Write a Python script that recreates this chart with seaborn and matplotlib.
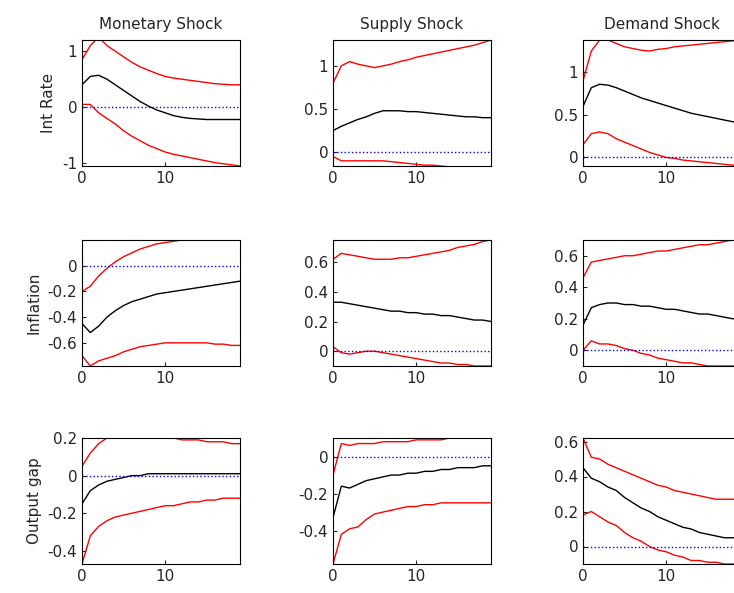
import numpy as np
import pandas as pd
import matplotlib
matplotlib.use("Agg")
import matplotlib.pyplot as plt
import seaborn as sns

# impulse responses, horizon 0..19
horizon = list(range(20))
shocks = ['Monetary Shock', 'Supply Shock', 'Demand Shock']
variables = ['Int Rate', 'Inflation', 'Output gap']

# (variable, shock) -> (lower, mid, upper)
irf = {
 ('Int Rate', 'Monetary Shock'): (
  [0.05, 0.05, -0.1, -0.2, -0.3, -0.42, -0.52, -0.6, -0.68, -0.74, -0.8, -0.84, -0.87, -0.9, -0.93, -0.96, -0.99, -1.01, -1.03, -1.05],
  [0.4, 0.55, 0.57, 0.5, 0.4, 0.3, 0.2, 0.1, 0.02, -0.05, -0.1, -0.15, -0.18, -0.2, -0.21, -0.22, -0.22, -0.22, -0.22, -0.22],
  [0.85, 1.1, 1.25, 1.1, 1.0, 0.9, 0.8, 0.72, 0.66, 0.6, 0.55, 0.52, 0.5, 0.48, 0.46, 0.44, 0.42, 0.41, 0.4, 0.4]),
 ('Int Rate', 'Supply Shock'): (
  [-0.05, -0.1, -0.1, -0.1, -0.1, -0.1, -0.1, -0.11, -0.12, -0.13, -0.14, -0.15, -0.15, -0.16, -0.17, -0.18, -0.18, -0.19, -0.2, -0.2],
  [0.25, 0.3, 0.34, 0.38, 0.41, 0.45, 0.48, 0.48, 0.48, 0.47, 0.47, 0.46, 0.45, 0.44, 0.43, 0.42, 0.41, 0.41, 0.4, 0.4],
  [0.8, 1.0, 1.05, 1.02, 1.0, 0.98, 1.0, 1.02, 1.05, 1.07, 1.1, 1.12, 1.14, 1.16, 1.18, 1.2, 1.22, 1.24, 1.27, 1.3]),
 ('Int Rate', 'Demand Shock'): (
  [0.15, 0.28, 0.3, 0.28, 0.22, 0.18, 0.14, 0.1, 0.06, 0.03, 0.0, -0.01, -0.03, -0.04, -0.05, -0.06, -0.07, -0.08, -0.09, -0.1],
  [0.6, 0.82, 0.86, 0.85, 0.82, 0.78, 0.74, 0.7, 0.67, 0.64, 0.61, 0.58, 0.55, 0.52, 0.5, 0.48, 0.46, 0.44, 0.42, 0.4],
  [0.9, 1.25, 1.38, 1.38, 1.34, 1.3, 1.28, 1.26, 1.25, 1.27, 1.28, 1.3, 1.31, 1.32, 1.33, 1.34, 1.35, 1.36, 1.37, 1.38]),
 ('Inflation', 'Monetary Shock'): (
  [-0.7, -0.78, -0.74, -0.72, -0.7, -0.67, -0.65, -0.63, -0.62, -0.61, -0.6, -0.6, -0.6, -0.6, -0.6, -0.6, -0.61, -0.61, -0.62, -0.62],
  [-0.45, -0.52, -0.47, -0.4, -0.35, -0.31, -0.28, -0.26, -0.24, -0.22, -0.21, -0.2, -0.19, -0.18, -0.17, -0.16, -0.15, -0.14, -0.13, -0.12],
  [-0.2, -0.16, -0.08, -0.02, 0.03, 0.07, 0.1, 0.13, 0.15, 0.17, 0.18, 0.19, 0.2, 0.2, 0.2, 0.2, 0.2, 0.2, 0.2, 0.2]),
 ('Inflation', 'Supply Shock'): (
  [0.03, -0.01, -0.02, -0.01, 0.0, 0.0, -0.01, -0.02, -0.03, -0.04, -0.05, -0.06, -0.07, -0.08, -0.08, -0.09, -0.09, -0.1, -0.1, -0.1],
  [0.33, 0.33, 0.32, 0.31, 0.3, 0.29, 0.28, 0.27, 0.27, 0.26, 0.26, 0.25, 0.25, 0.24, 0.24, 0.23, 0.22, 0.21, 0.21, 0.2],
  [0.62, 0.66, 0.65, 0.64, 0.63, 0.62, 0.62, 0.62, 0.63, 0.63, 0.64, 0.65, 0.66, 0.67, 0.68, 0.7, 0.71, 0.72, 0.74, 0.75]),
 ('Inflation', 'Demand Shock'): (
  [0.0, 0.06, 0.04, 0.04, 0.03, 0.01, 0.0, -0.02, -0.03, -0.05, -0.06, -0.07, -0.08, -0.08, -0.09, -0.1, -0.1, -0.1, -0.1, -0.1],
  [0.16, 0.27, 0.29, 0.3, 0.3, 0.29, 0.29, 0.28, 0.28, 0.27, 0.26, 0.26, 0.25, 0.24, 0.23, 0.23, 0.22, 0.21, 0.2, 0.2],
  [0.46, 0.56, 0.57, 0.58, 0.59, 0.6, 0.6, 0.61, 0.62, 0.63, 0.63, 0.64, 0.65, 0.66, 0.67, 0.67, 0.68, 0.69, 0.7, 0.7]),
 ('Output gap', 'Monetary Shock'): (
  [-0.47, -0.32, -0.27, -0.24, -0.22, -0.21, -0.2, -0.19, -0.18, -0.17, -0.16, -0.16, -0.15, -0.14, -0.14, -0.13, -0.13, -0.12, -0.12, -0.12],
  [-0.15, -0.08, -0.05, -0.03, -0.02, -0.01, 0.0, 0.0, 0.01, 0.01, 0.01, 0.01, 0.01, 0.01, 0.01, 0.01, 0.01, 0.01, 0.01, 0.01],
  [0.05, 0.12, 0.17, 0.2, 0.2, 0.2, 0.2, 0.2, 0.2, 0.2, 0.2, 0.2, 0.19, 0.19, 0.19, 0.18, 0.18, 0.18, 0.17, 0.17]),
 ('Output gap', 'Supply Shock'): (
  [-0.58, -0.42, -0.39, -0.38, -0.34, -0.31, -0.3, -0.29, -0.28, -0.27, -0.27, -0.26, -0.26, -0.25, -0.25, -0.25, -0.25, -0.25, -0.25, -0.25],
  [-0.33, -0.16, -0.17, -0.15, -0.13, -0.12, -0.11, -0.1, -0.1, -0.09, -0.09, -0.08, -0.08, -0.07, -0.07, -0.06, -0.06, -0.06, -0.05, -0.05],
  [-0.1, 0.07, 0.06, 0.07, 0.07, 0.07, 0.08, 0.08, 0.08, 0.08, 0.09, 0.09, 0.09, 0.09, 0.1, 0.1, 0.1, 0.1, 0.1, 0.1]),
 ('Output gap', 'Demand Shock'): (
  [0.18, 0.2, 0.17, 0.14, 0.12, 0.08, 0.05, 0.03, 0.0, -0.02, -0.03, -0.05, -0.06, -0.08, -0.08, -0.09, -0.09, -0.1, -0.1, -0.1],
  [0.45, 0.39, 0.37, 0.34, 0.32, 0.28, 0.25, 0.22, 0.2, 0.17, 0.15, 0.13, 0.11, 0.1, 0.08, 0.07, 0.06, 0.05, 0.05, 0.05],
  [0.62, 0.51, 0.5, 0.47, 0.45, 0.43, 0.41, 0.39, 0.37, 0.35, 0.34, 0.32, 0.31, 0.3, 0.29, 0.28, 0.27, 0.27, 0.27, 0.27]),
}

ylims = {
 ('Int Rate', 'Monetary Shock'): (-1.05, 1.2), ('Int Rate', 'Supply Shock'): (-0.16, 1.3),
 ('Int Rate', 'Demand Shock'): (-0.1, 1.38),
 ('Inflation', 'Monetary Shock'): (-0.78, 0.2), ('Inflation', 'Supply Shock'): (-0.1, 0.75),
 ('Inflation', 'Demand Shock'): (-0.1, 0.7),
 ('Output gap', 'Monetary Shock'): (-0.47, 0.2), ('Output gap', 'Supply Shock'): (-0.58, 0.1),
 ('Output gap', 'Demand Shock'): (-0.1, 0.62),
}
yticks = {
 'Int Rate': [[-1, 0, 1], [0, 0.5, 1], [0, 0.5, 1]],
 'Inflation': [[-0.6, -0.4, -0.2, 0], [0, 0.2, 0.4, 0.6], [0, 0.2, 0.4, 0.6]],
 'Output gap': [[-0.4, -0.2, 0, 0.2], [-0.4, -0.2, 0], [0, 0.2, 0.4, 0.6]],
}

sns.set_style("white")
plt.rcParams['font.family'] = ['DejaVu Sans']
fig = plt.figure(figsize=(7.34, 5.93), dpi=100)
W, H = 734, 593
lefts = [82, 333, 583]
tops = [40, 240, 438]
aw, ah = 158, 126

for i, var in enumerate(variables):
    for j, shock in enumerate(shocks):
        ax = fig.add_axes([lefts[j] / W, 1 - (tops[i] + ah) / H, aw / W, ah / H])
        lo, mid, hi = irf[(var, shock)]
        df = pd.DataFrame({'h': horizon, 'lo': lo, 'mid': mid, 'hi': hi})
        sns.lineplot(data=df, x='h', y='lo', color='red', lw=1, ax=ax)
        sns.lineplot(data=df, x='h', y='hi', color='red', lw=1, ax=ax)
        sns.lineplot(data=df, x='h', y='mid', color='black', lw=1, ax=ax)
        ax.axhline(0, color='blue', ls=':', lw=1)
        ax.set_xlim(0, 19)
        ax.set_ylim(*ylims[(var, shock)])
        ax.set_xticks([0, 10])
        ax.set_yticks(yticks[var][j])
        ax.set_yticklabels([f'{t:g}' for t in yticks[var][j]])
        ax.set_xlabel('')
        ax.set_ylabel(var if j == 0 else '', fontsize=11)
        ax.tick_params(labelsize=11, direction='in', length=3, left=True, bottom=True)
        for s in ax.spines.values():
            s.set_color('black')
            s.set_linewidth(0.8)
        if i == 0:
            ax.set_title(shock, fontsize=11, pad=8)

fig.savefig('out.png', dpi=100)
